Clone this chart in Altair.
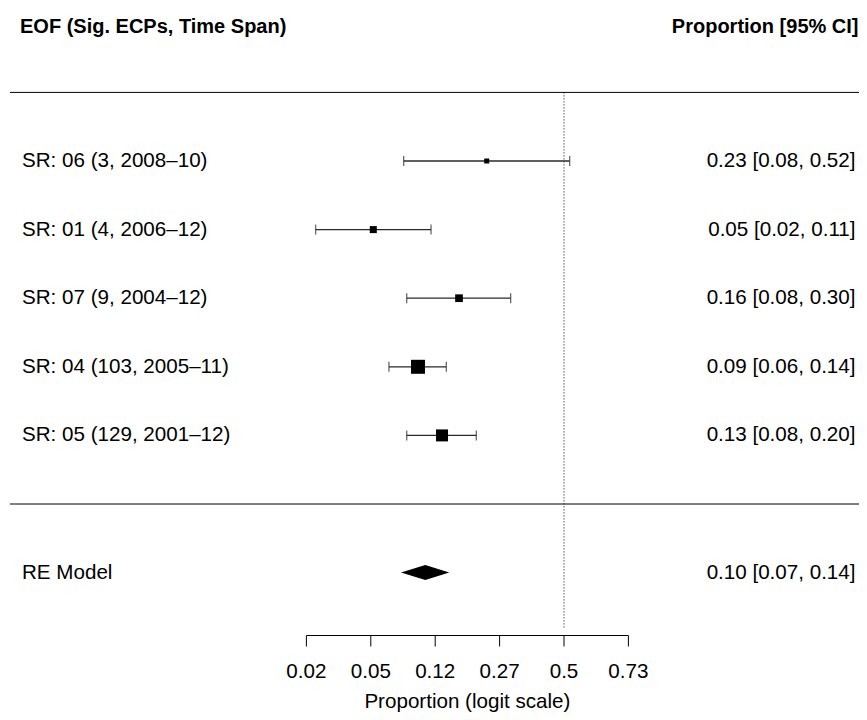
import altair as alt
import numpy as np
import pandas as pd

# ---- data ----
study_labels = ["SR: 06 (3, 2008–10)", "SR: 01 (4, 2006–12)", "SR: 07 (9, 2004–12)",
                "SR: 04 (103, 2005–11)", "SR: 05 (129, 2001–12)"]
estimates = [0.2315, 0.0492, 0.1638, 0.0939, 0.1308]
ci_lower = [0.0766, 0.0207, 0.0800, 0.0619, 0.0800]
ci_upper = [0.522, 0.1126, 0.304, 0.1386, 0.204]
weights = [5.3, 10.4, 12.5, 41.4, 30.4]
rows = [5, 4, 3, 2, 1]

re_label = "RE Model"
re_estimate = 0.104
re_lower = 0.0737
re_upper = 0.144

tick_logits = [-4, -3, -2, -1, 0, 1]
tick_labels = ["0.02", "0.05", "0.12", "0.27", "0.5", "0.73"]

header_left = "EOF (Sig. ECPs, Time Span)"
header_right = "Proportion [95% CI]"
axis_title = "Proportion (logit scale)"


def logit(p):
    return np.log(np.asarray(p) / (1 - np.asarray(p)))


FONT = "Liberation Sans"
FS = 20.6
FSB = 20
W, HGT = 851, 704
PX_PER_X = 64.4   # pixels per logit unit
X0_PAGE = 564     # page x of logit 0
PX_PER_ROW = 68.6
ROW5_PAGE = 161


def px_to_x(px):
    return (px - X0_PAGE) / PX_PER_X


def py_to_row(py):
    return 5 + (ROW5_PAGE - py) / PX_PER_ROW


XMIN, XMAX = px_to_x(8), px_to_x(8 + W)
YMIN, YMAX = py_to_row(8 + HGT), py_to_row(8)
xs = alt.Scale(domain=[XMIN, XMAX], nice=False, zero=False)
ys = alt.Scale(domain=[YMIN, YMAX], nice=False, zero=False)
X_LEFT_TEXT = px_to_x(22)
X_RIGHT_TEXT = px_to_x(855.5)
AXIS_Y = py_to_row(635.5)

studies = pd.DataFrame({
    "label": study_labels,
    "est": logit(estimates),
    "lo": logit(ci_lower),
    "hi": logit(ci_upper),
    "w": weights,
    "row": rows,
    "txt": [f"{e:.2f} [{l:.2f}, {u:.2f}]" for e, l, u in zip(estimates, ci_lower, ci_upper)],
})
studies["xl"] = X_LEFT_TEXT
studies["xr"] = X_RIGHT_TEXT

caps = pd.DataFrame({
    "x": list(logit(ci_lower)) + list(logit(ci_upper)),
    "row": rows + rows,
})

hl, he, hh = logit([re_lower, re_estimate, re_upper])
H = 0.109
diamond = pd.DataFrame({"x": [hl, he, hh], "y": [-1, -1 + H, -1], "y2": [-1, -1 - H, -1]})

re_text = pd.DataFrame({
    "xl": [X_LEFT_TEXT], "xr": [X_RIGHT_TEXT], "row": [-1], "label": [re_label],
    "txt": [f"{re_estimate:.2f} [{re_lower:.2f}, {re_upper:.2f}]"],
})

hlines = pd.DataFrame({"y": [6, 0], "x": [px_to_x(10)] * 2, "x2": [XMAX] * 2})
refline = pd.DataFrame({"x": [0], "y": [6], "y2": [py_to_row(628)]})
headers = pd.DataFrame({"x": [px_to_x(20)], "y": [py_to_row(27)], "t": [header_left]})
headers_r = pd.DataFrame({"x": [px_to_x(858.5)], "y": [py_to_row(27)], "t": [header_right]})

axis_line = pd.DataFrame({"x": [min(tick_logits)], "x2": [max(tick_logits)], "y": [AXIS_Y]})
axis_ticks = pd.DataFrame({"x": tick_logits, "lab": tick_labels})
axis_ticks["y"] = AXIS_Y
axis_ticks["y2"] = py_to_row(646.5)
axis_ticks["ly"] = py_to_row(671.5)
title_df = pd.DataFrame({"x": [0.5 * (min(tick_logits) + max(tick_logits))],
                         "y": [py_to_row(702)], "t": [axis_title]})

X = lambda f: alt.X(f, scale=xs, axis=None)
Y = lambda f: alt.Y(f, scale=ys, axis=None)

LINE = "#2a2a2a"

layers = [
    alt.Chart(hlines).mark_rule(color="black", strokeWidth=1).encode(x=X("x:Q"), x2="x2:Q", y=Y("y:Q")),
    alt.Chart(refline).mark_rule(color="black", strokeWidth=1, strokeDash=[1, 2]).encode(
        x=X("x:Q"), y=Y("y:Q"), y2="y2:Q"),
    alt.Chart(studies).mark_rule(color=LINE, strokeWidth=1.3).encode(
        x=X("lo:Q"), x2="hi:Q", y=Y("row:Q")),
    alt.Chart(caps).mark_tick(color=LINE, orient="vertical", size=10, thickness=1.3).encode(
        x=X("x:Q"), y=Y("row:Q")),
    alt.Chart(studies).mark_square(color="black", opacity=1, filled=True).encode(
        x=X("est:Q"), y=Y("row:Q"),
        size=alt.Size("w:Q", scale=alt.Scale(domain=[0, 41.4], range=[0, 196]), legend=None)),
    alt.Chart(diamond).mark_area(color="black", opacity=1).encode(
        x=X("x:Q"), y=Y("y:Q"), y2="y2:Q"),
    alt.Chart(studies).mark_text(align="left", baseline="middle", font=FONT, fontSize=FS, color="black").encode(
        x=X("xl:Q"), y=Y("row:Q"), text="label:N"),
    alt.Chart(studies).mark_text(align="right", baseline="middle", font=FONT, fontSize=FS, color="black").encode(
        x=X("xr:Q"), y=Y("row:Q"), text="txt:N"),
    alt.Chart(re_text).mark_text(align="left", baseline="middle", font=FONT, fontSize=FS, color="black").encode(
        x=X("xl:Q"), y=Y("row:Q"), text="label:N"),
    alt.Chart(re_text).mark_text(align="right", baseline="middle", font=FONT, fontSize=FS, color="black").encode(
        x=X("xr:Q"), y=Y("row:Q"), text="txt:N"),
    alt.Chart(headers).mark_text(align="left", baseline="middle", font=FONT, fontSize=FSB,
                                 fontWeight="bold", color="black").encode(
        x=X("x:Q"), y=Y("y:Q"), text="t:N"),
    alt.Chart(headers_r).mark_text(align="right", baseline="middle", font=FONT, fontSize=FSB,
                                   fontWeight="bold", color="black").encode(
        x=X("x:Q"), y=Y("y:Q"), text="t:N"),
    alt.Chart(axis_line).mark_rule(color="black", strokeWidth=1).encode(x=X("x:Q"), x2="x2:Q", y=Y("y:Q")),
    alt.Chart(axis_ticks).mark_rule(color="black", strokeWidth=1).encode(x=X("x:Q"), y=Y("y:Q"), y2="y2:Q"),
    alt.Chart(axis_ticks).mark_text(align="center", baseline="middle", font=FONT, fontSize=FS, color="black").encode(
        x=X("x:Q"), y=Y("ly:Q"), text="lab:N"),
    alt.Chart(title_df).mark_text(align="center", baseline="middle", font=FONT, fontSize=FS, color="black").encode(
        x=X("x:Q"), y=Y("y:Q"), text="t:N"),
]

chart = alt.layer(*layers).properties(
    width=W, height=HGT, padding=0, autosize=alt.AutoSizeParams(type="none"),
    background="white",
).configure_view(stroke=None)

chart.save("out.html", embed_options={"renderer": "svg", "actions": False})
